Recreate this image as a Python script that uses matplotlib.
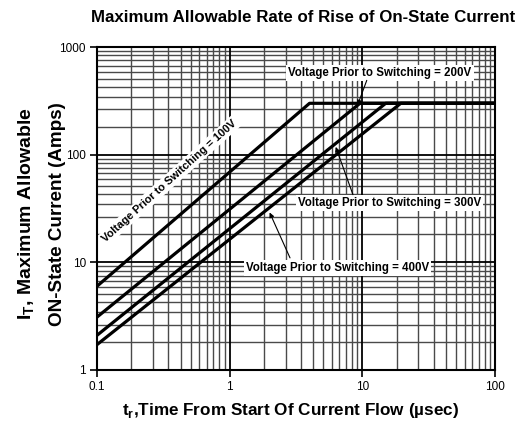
import numpy as np
import matplotlib
matplotlib.use("Agg")
import matplotlib.pyplot as plt
from matplotlib.ticker import FixedLocator

plt.rcParams['font.family'] = ['Liberation Sans', 'DejaVu Sans']
plt.rcParams['mathtext.fontset'] = 'custom'
plt.rcParams['mathtext.rm'] = 'Liberation Sans'
plt.rcParams['mathtext.bf'] = 'Liberation Sans:bold'

# ---- data ----
t_100 = [0.1, 4.0, 100]
i_100 = [6.0, 300, 300]
t_200 = [0.1, 9.6, 100]
i_200 = [3.1, 300, 300]
t_300 = [0.1, 15.0, 100]
i_300 = [2.1, 300, 300]
t_400 = [0.1, 19.5, 100]
i_400 = [1.72, 300, 300]

x_ticks = [0.1, 1, 10, 100]
x_ticklabels = ["0.1", "1", "10", "100"]
y_ticks = [1, 10, 100, 1000]
y_ticklabels = ["1", "10", "100", "1000"]

title = "Maximum Allowable Rate of Rise of On-State Current"
xlabel = r"$\mathbf{t}_{\mathbf{r}}$,Time From Start Of Current Flow (µsec)"
ylabel1 = r"$\mathbf{I}_{\mathbf{T}}$, Maximum Allowable"
ylabel2 = "ON-State Current (Amps)"
lbl = "Voltage Prior to Switching = {}"


def on_line(t, i, x):
    return 10 ** np.interp(np.log10(x), np.log10(t), np.log10(i))


fig = plt.figure(figsize=(5.23, 4.28), dpi=100)
ax = fig.add_axes([97 / 523, 1 - 370 / 428, (495 - 97) / 523, (370 - 47) / 428])
ax.set_xscale('log')
ax.set_yscale('log')
ax.set_xlim(0.1, 100)
ax.set_ylim(1, 1000)

# grid
mant = [1 + 9 * k / 11 for k in range(1, 11)]
xminor = [m * d for d in [0.1, 1, 10] for m in mant]
yminor = [m * d for d in [1, 10, 100] for m in mant]
for v in xminor:
    ax.axvline(v, color='#4a4a4a', lw=1.0, zorder=1)
for v in yminor:
    ax.axhline(v, color='#4a4a4a', lw=1.0, zorder=1)
for v in x_ticks:
    ax.axvline(v, color='black', lw=1.3, zorder=1)
for v in y_ticks:
    ax.axhline(v, color='black', lw=1.3, zorder=1)

ax.xaxis.set_major_locator(FixedLocator(x_ticks))
ax.yaxis.set_major_locator(FixedLocator(y_ticks))
ax.xaxis.set_minor_locator(FixedLocator([]))
ax.yaxis.set_minor_locator(FixedLocator([]))
ax.set_xticklabels(x_ticklabels)
ax.set_yticklabels(y_ticklabels)
ax.tick_params(which='major', direction='out', length=5, width=1.2,
               labelsize=8.5, pad=3)
for s in ax.spines.values():
    s.set_linewidth(1.5)
    s.set_zorder(5)

for t, i in [(t_100, i_100), (t_200, i_200), (t_300, i_300), (t_400, i_400)]:
    ax.plot(t, i, color='black', lw=2.3, solid_capstyle='butt', zorder=3)

box = dict(facecolor='white', edgecolor='none', pad=1.5)
fs = 8.3

# 100V rotated label
ax.text(0.35, 57, lbl.format("100V"), rotation=42, ha='center', va='center',
        rotation_mode='anchor', fontsize=8.0, fontweight='bold', bbox=box, zorder=4)

arrow = dict(arrowstyle='-|>', color='black', lw=0.8, mutation_scale=7,
             shrinkA=0, shrinkB=0)

# 200V
ax.text(13.6, 572, lbl.format("200V"), ha='center', va='center', fontsize=fs,
        fontweight='bold', bbox=box, zorder=4)
x2 = 9.2
ax.annotate('', xy=(x2, on_line(t_200, i_200, x2)), xytext=(10.8, 490),
            arrowprops=arrow, zorder=4)

# 300V
ax.text(16.1, 35.5, lbl.format("300V"), ha='center', va='center', fontsize=fs,
        fontweight='bold', bbox=box, zorder=4)
x3 = 6.3
ax.annotate('', xy=(x3, on_line(t_300, i_300, x3) * 0.93), xytext=(8.5, 42.5),
            arrowprops=arrow, zorder=4)

# 400V
ax.text(6.5, 8.85, lbl.format("400V"), ha='center', va='center', fontsize=fs,
        fontweight='bold', bbox=box, zorder=4)
x4 = 2.0
ax.annotate('', xy=(x4, on_line(t_400, i_400, x4) * 0.9), xytext=(2.85, 11.0),
            arrowprops=arrow, zorder=4)

fig.text(303 / 523, 1 - 17 / 428, title, ha='center', va='center',
         fontsize=12.2, fontweight='bold')
fig.text(291 / 523, 1 - 410 / 428, xlabel, ha='center', va='center',
         fontsize=12.3, fontweight='bold')
fig.text(27 / 523, 0.5, ylabel1, ha='center', va='center', rotation=90,
         fontsize=14.0, fontweight='bold')
fig.text(57 / 523, 0.5, ylabel2, ha='center', va='center', rotation=90,
         fontsize=13.6, fontweight='bold')

fig.savefig('out.png', dpi=100)
